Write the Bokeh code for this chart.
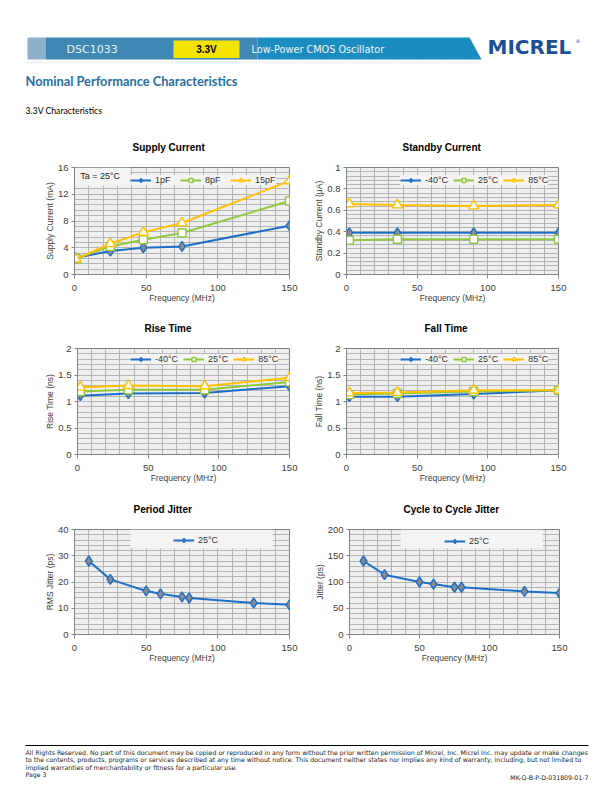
from bokeh.plotting import figure
from bokeh.models import (Range1d, FixedTicker, Legend, LegendItem, Label,
                          BoxAnnotation, CustomJSTickFormatter)
from bokeh.layouts import column, row
from bokeh.embed import file_html
from bokeh.resources import INLINE

# ---------------- data ----------------
supply_freq = [1, 25, 48, 75, 150]
supply_1pf = [2.5, 3.5, 4.0, 4.2, 7.3]
supply_8pf = [2.4, 4.2, 5.2, 6.2, 11.0]
supply_15pf = [2.3, 4.6, 6.3, 7.7, 14.0]

standby_freq = [2, 36, 90, 150]
standby_m40 = [0.39, 0.39, 0.39, 0.39]
standby_25 = [0.32, 0.33, 0.33, 0.33]
standby_85 = [0.66, 0.65, 0.64, 0.65]

rise_freq = [2, 36, 90, 150]
rise_m40 = [1.11, 1.15, 1.16, 1.29]
rise_25 = [1.19, 1.22, 1.22, 1.37]
rise_85 = [1.27, 1.30, 1.29, 1.45]

fall_freq = [2, 36, 90, 150]
fall_m40 = [1.09, 1.09, 1.14, 1.21]
fall_25 = [1.13, 1.15, 1.19, 1.21]
fall_85 = [1.16, 1.17, 1.21, 1.21]

jitter_freq = [10, 25, 50, 60, 75, 80, 125, 150]
period_jitter = [28.0, 21.0, 16.6, 15.5, 14.3, 13.9, 12.0, 11.3]
c2c_jitter = [140, 114, 100, 96, 90, 90, 82, 79]

x_major = [0, 50, 100, 150]
x_minor = list(range(0, 151, 10))

FONT = "Liberation Sans"
BLUE = "#1f6fc6"
GREEN = "#92c83e"
YELLOW = "#ffc000"
GRID = "#b5b5b5"
TXT = "#404040"


def chart(title, ylabel, ymax, ymajor, yminor, width, left, right, top, bottom, toff, decimals=False):
    p = figure(width=width, height=180, x_range=Range1d(0, 150), y_range=Range1d(0, ymax),
               output_backend="svg", toolbar_location=None,
               min_border_left=left, min_border_right=right,
               min_border_top=top, min_border_bottom=bottom,
               background_fill_color="#efefef", border_fill_color="white",
               outline_line_color="#7f7f7f", title=title)
    p.title.align = "left"
    p.title.offset = toff
    p.title.standoff = 29
    p.title.text_font = FONT
    p.title.text_font_size = "10px"
    p.title.text_font_style = "bold"
    p.title.text_color = "black"

    xt = FixedTicker(ticks=x_major, minor_ticks=x_minor)
    yt = FixedTicker(ticks=ymajor, minor_ticks=yminor)
    p.xaxis.ticker = xt
    p.xgrid.ticker = xt
    p.yaxis.ticker = yt
    p.ygrid.ticker = yt
    for g in (p.xgrid, p.ygrid):
        g.grid_line_color = GRID
        g.minor_grid_line_color = GRID
        g.grid_line_width = 1
        g.minor_grid_line_width = 1
    if decimals:
        p.yaxis.formatter = CustomJSTickFormatter(code="return tick.toString();")

    p.xaxis.axis_label = "Frequency (MHz)"
    p.yaxis.axis_label = ylabel
    for ax in (p.xaxis, p.yaxis):
        ax.axis_line_color = "#868686"
        ax.major_tick_line_color = "#868686"
        ax.minor_tick_line_color = None
        ax.major_tick_in = 0
        ax.major_label_text_font = FONT
        ax.major_label_text_font_size = "9.5px"
        ax.major_label_text_color = TXT
        ax.axis_label_text_font = FONT
        ax.axis_label_text_font_size = "8.5px"
        ax.axis_label_text_font_style = "normal"
        ax.axis_label_text_color = TXT
    p.xaxis.major_tick_out = 4
    p.xaxis.major_label_standoff = 6
    p.xaxis.axis_label_standoff = -1
    p.yaxis.major_tick_out = 3
    p.yaxis.major_label_standoff = 2
    p.yaxis.axis_label_standoff = 0
    return p


def series(p, x, y, color, marker, fill, size):
    l = p.line(x, y, line_color=color, line_width=2)
    s = p.scatter(x, y, marker=marker, size=size, fill_color=fill,
                  line_color=color, line_width=1.4)
    return [l, s]


def legend(p, items, loc):
    lg = Legend(items=[LegendItem(label=t, renderers=r) for t, r in items],
                orientation="horizontal", location=loc,
                background_fill_color="#f4f4f4", background_fill_alpha=1,
                border_line_color=None,
                label_text_font=FONT, label_text_font_size="9px",
                label_text_color="#333333",
                glyph_width=21, glyph_height=10, label_height=10,
                label_standoff=4, spacing=5, padding=3, margin=0)
    p.add_layout(lg)


def three(p, x, a, b, c, labels, loc):
    ra = series(p, x, a, BLUE, "diamond", "#8c8c8c", 10)
    rb = series(p, x, b, GREEN, "square", "white", 8)
    rc = series(p, x, c, YELLOW, "triangle", "white", 10)
    legend(p, list(zip(labels, [ra, rb, rc])), loc)


temps = ["-40°C", "25°C", "85°C"]

# Supply current
c1 = chart("Supply Current", "Supply Current (mA)", 16, [0, 4, 8, 12, 16],
           [i * 0.8 for i in range(21)], 306, 74, 17, 42, 31, 58)
c1.add_layout(BoxAnnotation(left=0.5, right=38.5, bottom=13.3, top=16,
                            fill_color="#f4f4f4", fill_alpha=1, line_color=None))
c1.add_layout(Label(x=4, y=14.7, text="Ta = 25°C", text_baseline="middle",
                    text_font=FONT, text_font_size="9px", text_color="#222222"))
three(c1, supply_freq, supply_1pf, supply_8pf, supply_15pf,
      ["1pF", "8pF", "15pF"], (56, 89))

# Standby current
c2 = chart("Standby Current", "Standby Current (µA)", 1, [0, 0.2, 0.4, 0.6, 0.8, 1],
           [i * 0.04 for i in range(26)], 298, 40, 46, 42, 31, 56, decimals=True)
three(c2, standby_freq, standby_m40, standby_25, standby_85, temps, (54, 89))

# Rise time
c3 = chart("Rise Time", "Rise Time (ns)", 2, [0, 0.5, 1, 1.5, 2],
           [i * 0.1 for i in range(21)], 306, 77, 17, 43, 30, 67, decimals=True)
three(c3, rise_freq, rise_m40, rise_25, rise_85, temps, (53, 90))

# Fall time
c4 = chart("Fall Time", "Fall Time (ns)", 2, [0, 0.5, 1, 1.5, 2],
           [i * 0.1 for i in range(21)], 298, 40, 46, 43, 30, 78, decimals=True)
three(c4, fall_freq, fall_m40, fall_25, fall_85, temps, (54, 90))

# Period jitter
c5 = chart("Period  Jitter", "RMS Jitter (ps)", 40, [0, 10, 20, 30, 40],
           [i * 2 for i in range(21)], 306, 74, 17, 44, 29, 59)
c5.add_layout(BoxAnnotation(left=39, right=138.3, bottom=33, top=40,
                            fill_color="#f4f4f4", fill_alpha=1, line_color=None))
r5 = series(c5, jitter_freq, period_jitter, BLUE, "diamond", "#8c8c8c", 10)
legend(c5, [("25°C", r5)], (99, 89))

# Cycle to cycle jitter
c6 = chart("Cycle to Cycle Jitter", "Jitter (ps)", 200, [0, 50, 100, 150, 200],
           [i * 10 for i in range(21)], 298, 43, 45, 44, 29, 54)
c6.add_layout(BoxAnnotation(left=36.6, right=138, bottom=164.6, top=200,
                            fill_color="#f4f4f4", fill_alpha=1, line_color=None))
r6 = series(c6, jitter_freq, c2c_jitter, BLUE, "diamond", "#8c8c8c", 10)
legend(c6, [("25°C", r6)], (95, 88))

# ---------------- header ----------------
hdr = figure(width=604, height=125, x_range=Range1d(0, 604), y_range=Range1d(125, 0),
             output_backend="svg", toolbar_location=None, min_border=0,
             x_axis_location=None, y_axis_location=None, outline_line_color=None)
hdr.grid.visible = False
hdr.quad(left=27, right=45, top=37, bottom=59, fill_color="#8fb0cc", line_color=None)
hdr.quad(left=45, right=257, top=37, bottom=59, fill_color="#3f88b4", line_color=None)
hdr.patch([257, 469, 481, 257], [37, 37, 59, 59], fill_color="#1b8cbf", line_color=None)
hdr.quad(left=173, right=239, top=40, bottom=57.5, fill_color="#f4e200", line_color=None)
hdr.line([27, 480], [62, 62], line_color="#e6ebf0", line_width=2, line_dash="2 1")


def hlabel(fig, x, y, text, size, color, font="DejaVu Sans", style="normal", align="left"):
    fig.add_layout(Label(x=x, y=y, text=text, text_font=font, text_font_size=size,
                         text_color=color, text_font_style=style,
                         text_baseline="middle", text_align=align))


hlabel(hdr, 66, 48.5, "DSC1033", "11px", "#eaf2f8")
hlabel(hdr, 206, 48.5, "3.3V", "10px", "black", font=FONT, style="bold", align="center")
hlabel(hdr, 251, 48.5, "Low-Power CMOS Oscillator", "9.7px", "#f0f6fa")
hlabel(hdr, 487, 46, "MICREL", "20px", "#1d4f96", style="bold")
hlabel(hdr, 575, 40, "®", "5px", "#1d4f96")
hlabel(hdr, 25, 80, "Nominal Performance Characteristics", "12.8px", "#1f70a5",
       font="Lato", style="bold")
hlabel(hdr, 25, 110, "3.3V Characteristics", "8.7px", "black", font="Lato")

# ---------------- footer ----------------
ftr = figure(width=604, height=119, x_range=Range1d(0, 604), y_range=Range1d(784, 665),
             output_backend="svg", toolbar_location=None, min_border=0,
             x_axis_location=None, y_axis_location=None, outline_line_color=None)
ftr.grid.visible = False
ftr.line([25, 588], [745, 745], line_color="black", line_width=1)
foot_lines = [
    "All Rights Reserved.  No part of this document may be copied or reproduced in any form without the prior written permission of Micrel, Inc.  Micrel Inc. may update or make changes",
    "to the contents, products, programs or services described at any time without notice.  This document neither states nor implies any kind of warranty, including, but not limited to",
    "implied warranties of merchantability or fitness for a particular use.",
    "Page 3",
]
for i, t in enumerate(foot_lines):
    hlabel(ftr, 25, 752 + i * 7.4, t, "6.25px", "#222222")
hlabel(ftr, 588, 777, "MK-Q-B-P-D-031809-01-7", "6.25px", "#222222", align="right")

layout = column(hdr, row(c1, c2), row(c3, c4), row(c5, c6), ftr)
open("out.html", "w").write(file_html(layout, INLINE))
